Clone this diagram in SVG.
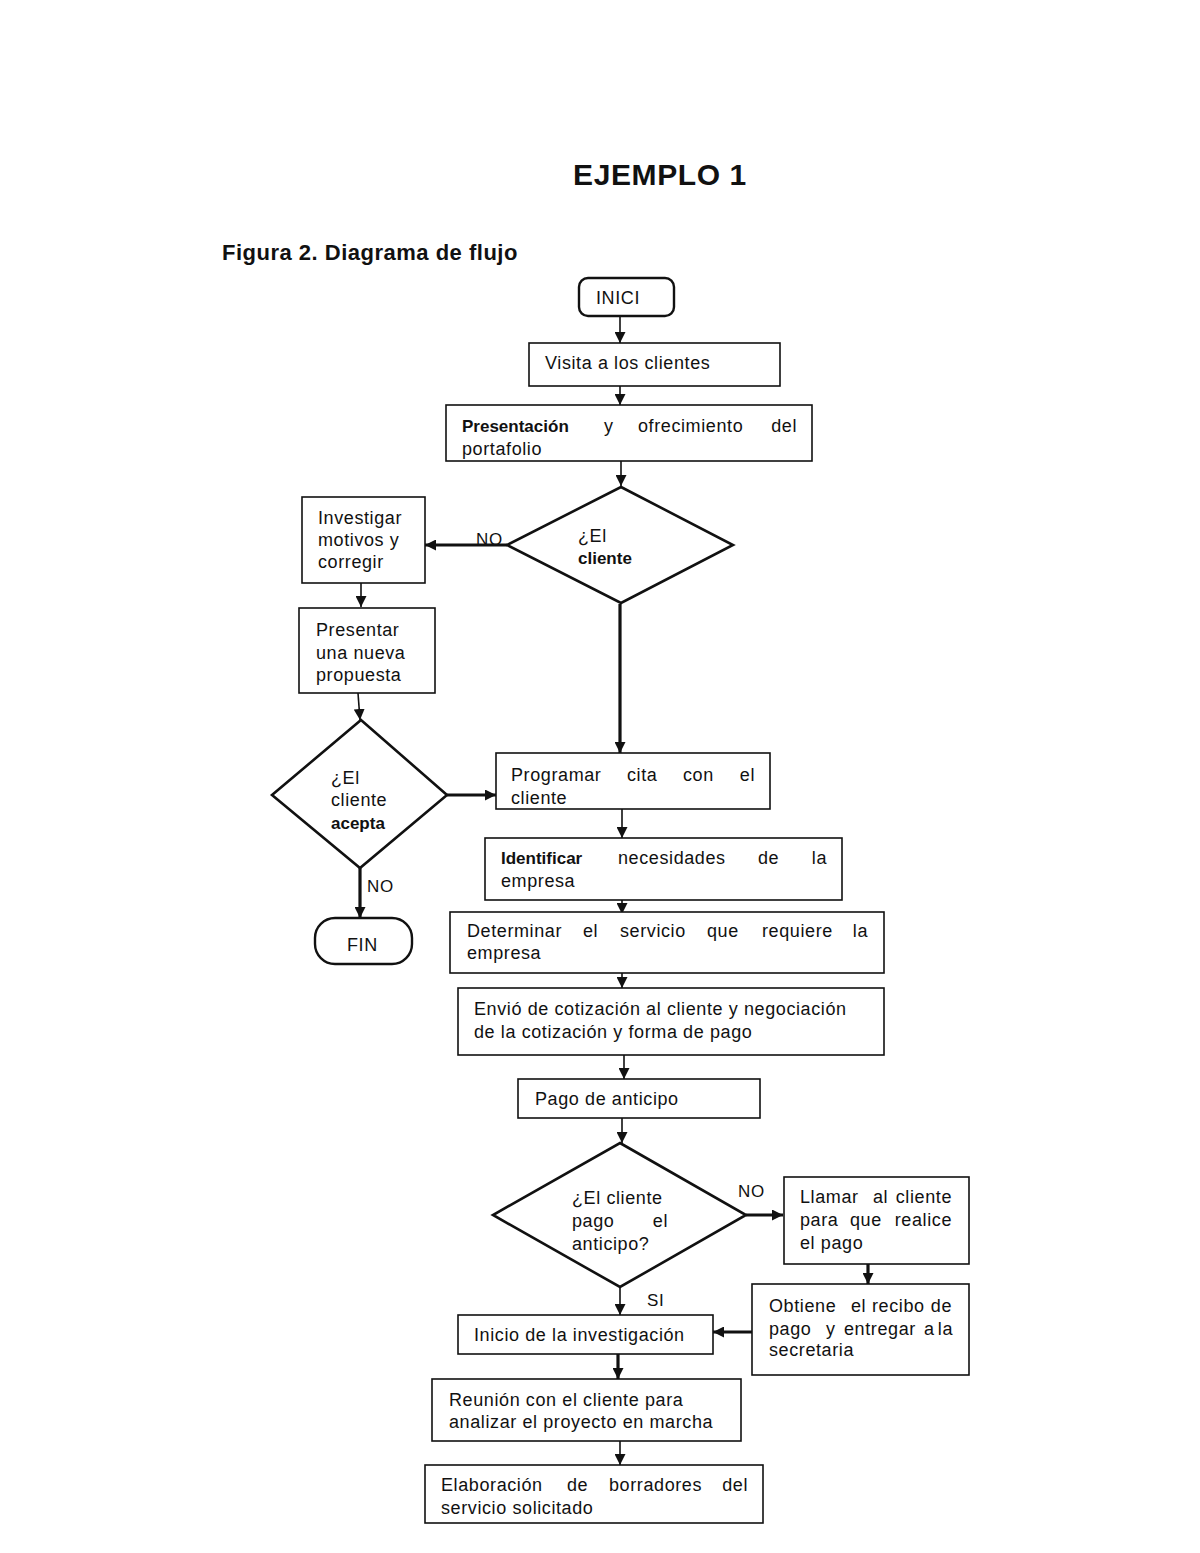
<svg xmlns="http://www.w3.org/2000/svg" width="1200" height="1553" viewBox="0 0 1200 1553">
<style>
text{font-family:"Liberation Sans",Arial,sans-serif;font-size:18px;letter-spacing:0.6px;fill:#111}
.b{font-weight:bold;font-size:17px;letter-spacing:0}
.title{font-weight:bold;font-size:30px;letter-spacing:0.6px}
.fig{font-weight:bold;font-size:22px;letter-spacing:0.5px}
.box{fill:#fff;stroke:#111;stroke-width:1.6}
.dia{fill:#fff;stroke:#111;stroke-width:2.6}
.term{fill:#fff;stroke:#111;stroke-width:2.4}
.ln{fill:none;stroke:#111;stroke-width:1.6}
.th{fill:none;stroke:#111;stroke-width:3.2}
.lbl{font-size:17px;letter-spacing:0.6px}
</style>
<defs>
<marker id="ah" markerUnits="userSpaceOnUse" markerWidth="11" markerHeight="11" viewBox="0 0 11 11" refX="11" refY="5.5" orient="auto">
<path d="M0,0 L11,5.5 L0,11 Z" fill="#111"/>
</marker>
</defs>
<rect width="1200" height="1553" fill="#fff"/>
<text x="660" y="185" text-anchor="middle" class="title">EJEMPLO 1</text>
<text x="222" y="260" class="fig">Figura 2. Diagrama de flujo</text>

<g id="connectors">
<path class="ln" d="M620,316 V343" marker-end="url(#ah)"/>
<path class="ln" d="M620,386 V405" marker-end="url(#ah)"/>
<path class="ln" d="M621,461 V486" marker-end="url(#ah)"/>
<path class="th" d="M507,545 H425" marker-end="url(#ah)"/>
<text x="476" y="545" class="lbl">NO</text>
<path class="ln" d="M361,583 V607" marker-end="url(#ah)"/>
<path class="ln" d="M358,693 L360,720" marker-end="url(#ah)"/>
<path class="th" d="M620,604 V753" marker-end="url(#ah)"/>
<path class="th" d="M447,795 H496" marker-end="url(#ah)"/>
<path class="th" d="M360,868 V918" marker-end="url(#ah)"/>
<text x="367" y="892" class="lbl">NO</text>
<path class="ln" d="M622,809 V838" marker-end="url(#ah)"/>
<path class="ln" d="M622,900 V914" marker-end="url(#ah)"/>
<path class="ln" d="M622,973 V988" marker-end="url(#ah)"/>
<path class="ln" d="M624,1055 V1079" marker-end="url(#ah)"/>
<path class="ln" d="M622,1118 V1143" marker-end="url(#ah)"/>
<path class="th" d="M746,1215 H783" marker-end="url(#ah)"/>
<text x="738" y="1197" class="lbl">NO</text>
<path class="th" d="M868,1257 V1284" marker-end="url(#ah)"/>
<path class="th" d="M752,1332 H713" marker-end="url(#ah)"/>
<path class="ln" d="M620,1287 V1315" marker-end="url(#ah)"/>
<text x="647" y="1306" class="lbl">SI</text>
<path class="th" d="M618,1354 V1379" marker-end="url(#ah)"/>
<path class="ln" d="M620,1441 V1465" marker-end="url(#ah)"/>
</g>

<g id="inici">
<rect class="term" x="579" y="278" width="95" height="38" rx="9"/>
<text x="596" y="304">INICI</text>
</g>
<g id="visita">
<rect class="box" x="529" y="343" width="251" height="43"/>
<text x="545" y="369">Visita a los clientes</text>
</g>
<g id="presentacion">
<rect class="box" x="446" y="405" width="366" height="56"/>
<text x="462" y="432" class="b">Presentación</text>
<text x="604" y="432">y</text>
<text x="638" y="432">ofrecimiento</text>
<text x="797" y="432" text-anchor="end">del</text>
<text x="462" y="455">portafolio</text>
</g>
<g id="decision1">
<polygon class="dia" points="621,487 733,545 621,603 507,545"/>
<text x="578" y="542">¿El</text>
<text x="578" y="564" class="b">cliente</text>
</g>
<g id="investigar">
<rect class="box" x="302" y="497" width="123" height="86"/>
<text x="318" y="524">Investigar</text>
<text x="318" y="546">motivos y</text>
<text x="318" y="568">corregir</text>
</g>
<g id="presentar">
<rect class="box" x="299" y="608" width="136" height="85"/>
<text x="316" y="636">Presentar</text>
<text x="316" y="659">una nueva</text>
<text x="316" y="681">propuesta</text>
</g>
<g id="decision2">
<polygon class="dia" points="361,720 447,795 360,868 272,795"/>
<text x="331" y="784">¿El</text>
<text x="331" y="806">cliente</text>
<text x="331" y="829" class="b">acepta</text>
</g>
<g id="fin">
<rect class="term" x="315" y="918" width="97" height="46" rx="20"/>
<text x="347" y="951">FIN</text>
</g>
<g id="programar">
<rect class="box" x="496" y="753" width="274" height="56"/>
<text x="511" y="781">Programar</text>
<text x="627" y="781">cita</text>
<text x="683" y="781">con</text>
<text x="755" y="781" text-anchor="end">el</text>
<text x="511" y="804">cliente</text>
</g>
<g id="identificar">
<rect class="box" x="485" y="838" width="357" height="62"/>
<text x="501" y="864" class="b">Identificar</text>
<text x="618" y="864">necesidades</text>
<text x="758" y="864">de</text>
<text x="827" y="864" text-anchor="end">la</text>
<text x="501" y="887">empresa</text>
</g>
<g id="determinar">
<rect class="box" x="450" y="912" width="434" height="61"/>
<text x="467" y="937">Determinar</text>
<text x="583" y="937">el</text>
<text x="620" y="937">servicio</text>
<text x="707" y="937">que</text>
<text x="762" y="937">requiere</text>
<text x="868" y="937" text-anchor="end">la</text>
<text x="467" y="959">empresa</text>
</g>
<g id="envio">
<rect class="box" x="458" y="988" width="426" height="67"/>
<text x="474" y="1015">Envió de cotización al cliente y negociación</text>
<text x="474" y="1038">de la cotización y forma de pago</text>
</g>
<g id="pago">
<rect class="box" x="518" y="1079" width="242" height="39"/>
<text x="535" y="1105">Pago de anticipo</text>
</g>
<g id="decision3">
<polygon class="dia" points="620,1143 746,1215 620,1287 493,1215"/>
<text x="572" y="1204">¿El cliente</text>
<text x="572" y="1227">pago</text>
<text x="668" y="1227" text-anchor="end">el</text>
<text x="572" y="1250">anticipo?</text>
</g>
<g id="llamar">
<rect class="box" x="784" y="1177" width="185" height="87"/>
<text x="800" y="1203">Llamar</text>
<text x="873" y="1203">al</text>
<text x="952" y="1203" text-anchor="end">cliente</text>
<text x="800" y="1226">para</text>
<text x="850" y="1226">que</text>
<text x="952" y="1226" text-anchor="end">realice</text>
<text x="800" y="1249">el pago</text>
</g>
<g id="obtiene">
<rect class="box" x="752" y="1284" width="217" height="91"/>
<text x="769" y="1312">Obtiene</text>
<text x="851" y="1312">el</text>
<text x="872" y="1312">recibo</text>
<text x="952" y="1312" text-anchor="end">de</text>
<text x="769" y="1335">pago</text>
<text x="826" y="1335">y</text>
<text x="844" y="1335">entregar</text>
<text x="924" y="1335">a</text>
<text x="953" y="1335" text-anchor="end">la</text>
<text x="769" y="1356">secretaria</text>
</g>
<g id="inicio">
<rect class="box" x="458" y="1315" width="255" height="39"/>
<text x="474" y="1341">Inicio de la investigación</text>
</g>
<g id="reunion">
<rect class="box" x="432" y="1379" width="309" height="62"/>
<text x="449" y="1406">Reunión con el cliente para</text>
<text x="449" y="1428">analizar el proyecto en marcha</text>
</g>
<g id="elaboracion">
<rect class="box" x="425" y="1465" width="338" height="58"/>
<text x="441" y="1491">Elaboración</text>
<text x="567" y="1491">de</text>
<text x="609" y="1491">borradores</text>
<text x="748" y="1491" text-anchor="end">del</text>
<text x="441" y="1514">servicio solicitado</text>
</g>
</svg>
